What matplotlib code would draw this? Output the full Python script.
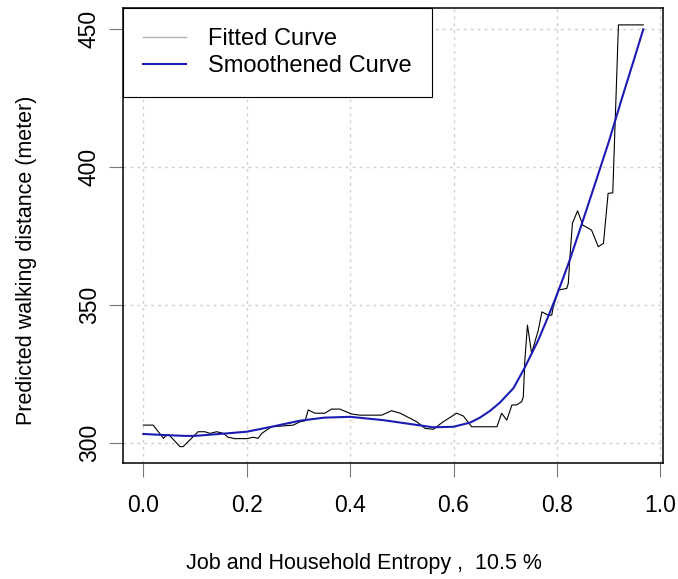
import matplotlib
matplotlib.use("Agg")
import matplotlib.pyplot as plt
from matplotlib.lines import Line2D

plt.rcParams['font.family'] = ['Liberation Sans', 'DejaVu Sans']

# fitted curve
fit_x = [0.0, 0.019, 0.039, 0.045, 0.05, 0.071, 0.077, 0.106, 0.119, 0.129, 0.142, 0.155,
         0.164, 0.177, 0.2, 0.213, 0.222, 0.229, 0.248, 0.27, 0.29, 0.303, 0.313, 0.319,
         0.332, 0.351, 0.364, 0.380, 0.403, 0.419, 0.461, 0.480, 0.497, 0.529, 0.545,
         0.561, 0.580, 0.606, 0.619, 0.635, 0.684, 0.693, 0.703, 0.713, 0.722, 0.732,
         0.735, 0.738, 0.743, 0.751, 0.764, 0.771, 0.783, 0.790, 0.793, 0.803, 0.819,
         0.822, 0.825, 0.830, 0.840, 0.850, 0.867, 0.880, 0.890, 0.899, 0.908, 0.919, 0.967]
fit_y = [306.6, 306.6, 301.8, 303.0, 303.0, 298.8, 298.8, 304.2, 304.2, 303.6, 304.2, 303.6,
         302.2, 301.7, 301.7, 302.2, 301.8, 303.6, 306.0, 306.3, 306.6, 307.8, 308.2, 312.1,
         310.9, 310.9, 312.4, 312.4, 310.6, 310.2, 310.2, 311.8, 310.9, 307.8, 305.4,
         305.1, 307.8, 310.9, 309.9, 306.0, 306.0, 310.9, 308.4, 313.9, 313.9, 315.1,
         316.9, 330.2, 342.8, 332.6, 341.0, 347.6, 346.4, 346.4, 349.5, 355.5, 356.1,
         357.9, 367.0, 379.7, 384.2, 379.0, 377.2, 371.2, 372.4, 390.5, 390.7, 451.5, 451.5]

# smoothed curve
smooth_x = [0.0, 0.04, 0.08, 0.1, 0.148, 0.2, 0.248, 0.303, 0.35, 0.4, 0.464, 0.52,
            0.561, 0.6, 0.632, 0.651, 0.671, 0.690, 0.716, 0.738, 0.764, 0.78, 0.796,
            0.81, 0.825, 0.85, 0.875, 0.9, 0.925, 0.95, 0.967]
smooth_y = [303.4, 303.0, 302.7, 302.7, 303.4, 304.2, 306.0, 308.2, 309.3, 309.6, 308.4, 306.9,
            305.8, 306.0, 307.5, 309.3, 311.8, 314.8, 320.0, 327.5, 337.4, 344.5, 351.9,
            358.8, 366.5, 380.5, 394.7, 409.0, 424.5, 439.5, 449.9]

x_ticks = [0.0, 0.2, 0.4, 0.6, 0.8, 1.0]
y_ticks = [300, 350, 400, 450]

fig = plt.figure(figsize=(6.78, 5.79), dpi=100)
ax = fig.add_axes([0.1814, 0.2003, 0.7965, 0.7858])

for xv in x_ticks:
    ax.axvline(xv, color='#cfcfcf', linestyle=(0, (2, 3)), lw=1.0, zorder=0)
for yv in y_ticks:
    ax.axhline(yv, color='#cfcfcf', linestyle=(0, (2, 3)), lw=1.0, zorder=0)

ax.plot(fit_x, fit_y, color='black', lw=0.8)
ax.plot(smooth_x, smooth_y, color='#1c1cb4', lw=1.5)

ax.set_xlim(-0.0393, 1.0052)
ax.set_ylim(292.87, 457.6)
ax.set_xticks(x_ticks)
ax.set_xticklabels(['0.0', '0.2', '0.4', '0.6', '0.8', '1.0'])
ax.set_yticks(y_ticks)
ax.set_yticklabels([str(v) for v in y_ticks])
plt.setp(ax.get_yticklabels(), rotation=90, va='center')
ax.tick_params(axis='both', length=10, width=0.8, color='#777777', labelsize=16.5)
ax.tick_params(axis='x', pad=12)
ax.tick_params(axis='y', pad=6)

for s in ax.spines.values():
    s.set_linewidth(1.1)
    s.set_color('black')

ax.set_xlabel('Job and Household Entropy ,  10.5 %', fontsize=15.5)
ax.set_ylabel('Predicted walking distance (meter)', fontsize=15.5)
ax.xaxis.set_label_coords(0.447, -0.198)
ax.yaxis.set_label_coords(-0.159, 0.446)

handles = [Line2D([], [], color='#b0b0b0', lw=1.0),
           Line2D([], [], color='#1c1cb4', lw=1.5)]
leg = ax.legend(handles, ['Fitted Curve', 'Smoothened Curve'], loc='upper left',
                bbox_to_anchor=(0, 1), borderaxespad=0, fontsize=17, fancybox=False,
                framealpha=1, edgecolor='black', handlelength=1.8, handletextpad=0.95,
                borderpad=0.85, labelspacing=0.22)
leg.get_frame().set_linewidth(0.8)

fig.savefig('out.png', dpi=100)
